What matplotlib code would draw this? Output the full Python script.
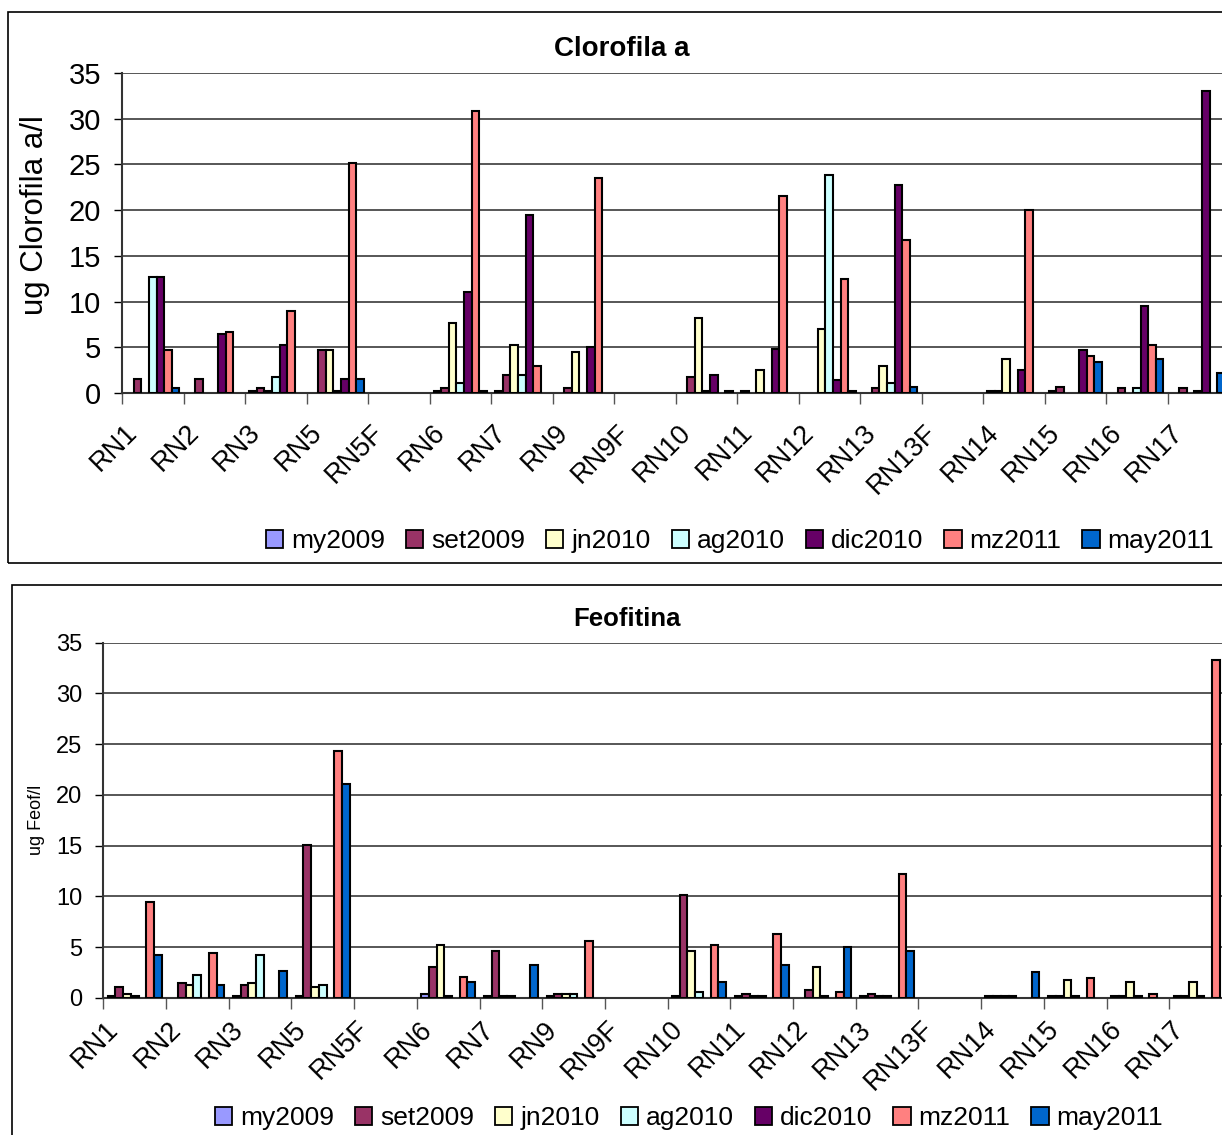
import matplotlib
matplotlib.use('Agg')
import matplotlib.pyplot as plt
import numpy as np
from matplotlib.patches import Patch, Rectangle

plt.rcParams['font.family'] = ['Liberation Sans', 'DejaVu Sans']

# ----------------------------------------------------------------------------------------
#                             DATA AREA

stations = ['RN1', 'RN2', 'RN3', 'RN5', 'RN5F', 'RN6', 'RN7', 'RN9', 'RN9F',
            'RN10', 'RN11', 'RN12', 'RN13', 'RN13F', 'RN14', 'RN15', 'RN16', 'RN17']
campaigns = ['my2009', 'set2009', 'jn2010', 'ag2010', 'dic2010', 'mz2011', 'may2011']
colors = ['#9999FF', '#993366', '#FFFFCC', '#CCFFFF', '#660066', '#FF8080', '#0066CC']

nan = np.nan

# Clorofila a (ug/l)
clor_my2009  = [nan, nan, 0.2, nan, nan, 0.2, 0.2, nan, nan, nan, 0.2, nan, nan, nan, 0.2, 0.2, nan, nan]
clor_set2009 = [1.5, 1.5, 0.5, 4.7, nan, 0.5, 2.0, 0.5, nan, 1.7, nan, nan, 0.5, nan, 0.2, 0.7, 0.5, 0.5]
clor_jn2010  = [nan, nan, 0.2, 4.7, nan, 7.7, 5.2, 4.5, nan, 8.2, 2.5, 7.0, 3.0, nan, 3.7, nan, nan, nan]
clor_ag2010  = [12.7, nan, 1.7, 0.2, nan, 1.1, 2.0, nan, nan, 0.2, nan, 23.8, 1.1, nan, nan, nan, 0.5, 0.2]
clor_dic2010 = [12.7, 6.5, 5.2, 1.5, nan, 11.0, 19.5, 5.0, nan, 2.0, 4.8, 1.4, 22.7, nan, 2.5, 4.7, 9.5, 33.0]
clor_mz2011  = [4.7, 6.7, 9.0, 25.2, nan, 30.8, 3.0, 23.5, nan, nan, 21.5, 12.5, 16.7, nan, 20.0, 4.0, 5.2, nan]
clor_may2011 = [0.5, nan, nan, 1.5, nan, 0.2, nan, nan, nan, 0.2, nan, 0.2, 0.7, nan, nan, 3.4, 3.7, 2.2]

# Feofitina (ug/l)
feof_my2009  = [0.2, nan, 0.2, 0.2, nan, 0.4, 0.2, 0.2, nan, 0.2, 0.2, nan, 0.2, nan, 0.2, 0.2, 0.2, 0.2]
feof_set2009 = [1.1, 1.5, 1.3, 15.1, nan, 3.1, 4.65, 0.4, nan, 10.1, 0.4, 0.8, 0.4, nan, 0.2, 0.2, 0.2, 0.2]
feof_jn2010  = [0.4, 1.3, 1.5, 1.1, nan, 5.2, 0.2, 0.4, nan, 4.65, 0.2, 3.1, 0.2, nan, 0.2, 1.8, 1.6, 1.6]
feof_ag2010  = [0.2, 2.3, 4.2, 1.3, nan, 0.2, 0.2, 0.4, nan, 0.6, 0.2, 0.2, 0.2, nan, 0.2, 0.2, 0.2, 0.2]
feof_dic2010 = [nan] * 18
feof_mz2011  = [9.45, 4.45, nan, 24.35, nan, 2.1, nan, 5.6, nan, 5.25, 6.35, 0.6, 12.2, nan, nan, 2.0, 0.4, 33.3]
feof_may2011 = [4.2, 1.3, 2.7, 21.1, nan, 1.55, 3.3, nan, nan, 1.55, 3.3, 5.0, 4.65, nan, 2.55, nan, nan, nan]

clor_series = [clor_my2009, clor_set2009, clor_jn2010, clor_ag2010, clor_dic2010, clor_mz2011, clor_may2011]
feof_series = [feof_my2009, feof_set2009, feof_jn2010, feof_ag2010, feof_dic2010, feof_mz2011, feof_may2011]

W, H = 1222.0, 1135.0


# ----------------------------------------------------------------------------------------
#                             PLOTTING AREA

def draw_panel(ax, series, ylabel, tick_fs, label_fs, ylabel_fs, label_pad, label_shift, ylabel_xy):
    x = np.arange(len(stations))
    width = 0.123
    for k, (vals, col) in enumerate(zip(series, colors)):
        off = (k - 3) * width
        ax.bar(x + off, vals, width, color=col, edgecolor='black', linewidth=1.5, zorder=3)

    ax.set_xlim(-0.5, len(stations) - 0.5)
    ax.set_ylim(0, 35)
    ax.set_yticks(np.arange(0, 36, 5))
    ax.yaxis.grid(True, color='#3a3a3a', linewidth=1.2, zorder=0)
    ax.tick_params(axis='y', labelsize=tick_fs, length=6, width=1, direction='out', pad=9)

    # tick marks between stations, labels slightly left of each group
    ax.set_xticks(np.arange(-0.5, len(stations), 1.0))
    ax.set_xticklabels([])
    ax.tick_params(axis='x', which='major', length=8, width=1, color='#555555')
    ax.set_xticks(x - label_shift, minor=True)
    ax.set_xticklabels(stations, minor=True, rotation=45, ha='right',
                       rotation_mode='anchor', fontsize=label_fs)
    ax.tick_params(axis='x', which='minor', length=0, pad=label_pad)

    for s in ['top', 'right']:
        ax.spines[s].set_visible(False)
    for s in ['left', 'bottom']:
        ax.spines[s].set_linewidth(1.5)
        ax.spines[s].set_color('#333333')

    ax.set_ylabel(ylabel, fontsize=ylabel_fs)
    ax.yaxis.set_label_coords(*ylabel_xy)


def main():
    fig = plt.figure(figsize=(12.22, 11.35), dpi=100)

    # chart frames
    fig.patches.append(Rectangle((8 / W, 1 - 563 / H), 1.2, (563 - 12) / H, transform=fig.transFigure,
                                 fill=False, edgecolor='black', linewidth=1.2))
    fig.patches.append(Rectangle((12 / W, -0.1), 1.2, 0.1 + 1 - 585 / H, transform=fig.transFigure,
                                 fill=False, edgecolor='black', linewidth=1.2))

    ax1 = fig.add_axes([122 / W, 1 - 393 / H, 18 * 61.5 / W, 320 / H])
    draw_panel(ax1, clor_series, 'ug Clorofila a/l', tick_fs=21, label_fs=19.5, ylabel_fs=22.5,
               label_pad=19, label_shift=0.46,
               ylabel_xy=((50 - 122) / (18 * 61.5), (393 - 215) / 320))
    fig.text(622 / W, 1 - 49 / H, 'Clorofila a', fontsize=20, fontweight='bold',
             ha='center', va='center')

    ax2 = fig.add_axes([103.3 / W, 1 - 998 / H, 18 * 62.7 / W, 355.3 / H])
    draw_panel(ax2, feof_series, 'ug Feof/l', tick_fs=17, label_fs=19.5, ylabel_fs=13,
               label_pad=13, label_shift=0.47,
               ylabel_xy=((45 - 103.3) / (18 * 62.7), 0.5))
    fig.text(627 / W, 1 - 619 / H, 'Feofitina', fontsize=18.5, fontweight='bold',
             ha='center', va='center')

    handles = [Patch(facecolor=c, edgecolor='black', linewidth=1.3, label=n) for n, c in zip(campaigns, colors)]
    fig.legend(handles=handles, loc='center', bbox_to_anchor=(740 / W, 1 - 541 / H), ncol=7,
               frameon=False, fontsize=19, handlelength=0.65, handleheight=0.65,
               handletextpad=0.3, columnspacing=0.8)
    fig.legend(handles=handles, loc='center', bbox_to_anchor=(689 / W, 1 - 1118 / H), ncol=7,
               frameon=False, fontsize=19, handlelength=0.65, handleheight=0.65,
               handletextpad=0.3, columnspacing=0.8)

    fig.savefig('out.png', dpi=100)


if __name__ == "__main__":
    main()
